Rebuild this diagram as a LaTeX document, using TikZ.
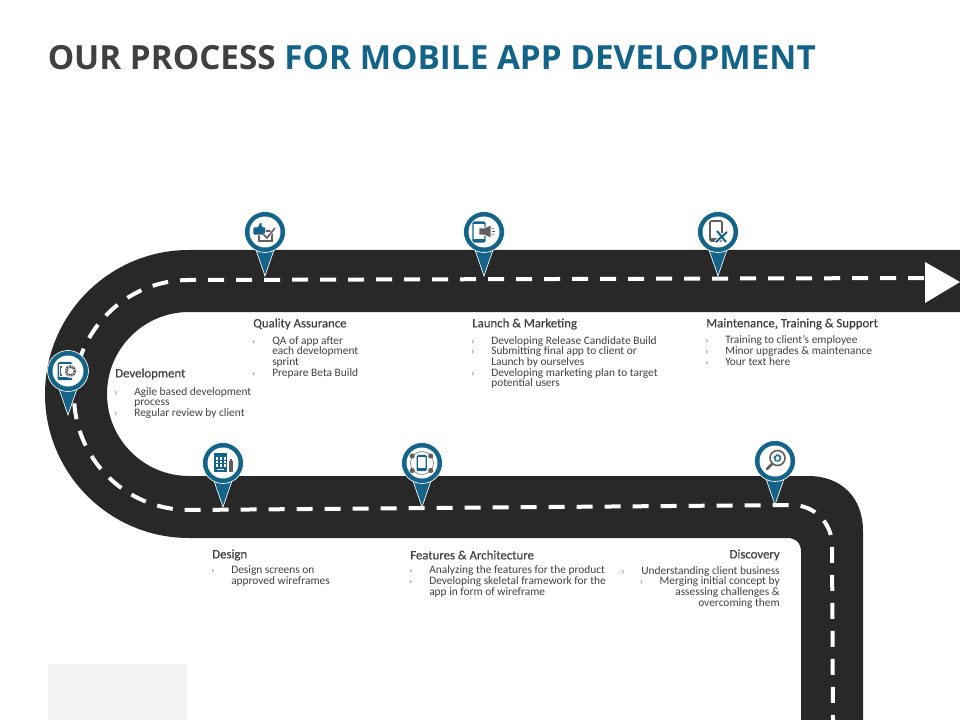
\documentclass[tikz,border=0pt]{standalone}
\usepackage{fontspec}
\setmainfont{Carlito}
\newfontfamily\titlefont{Open Sans}
\newfontfamily\headfont[FakeBold=0.4]{Carlito}
\definecolor{pinblue}{HTML}{146489}
\definecolor{roadgrey}{HTML}{282828}
\definecolor{textgrey}{HTML}{404040}
\definecolor{icongrey}{HTML}{5F5F5F}
\newcommand{\bmark}{\llap{\textcolor{icongrey}{\scriptsize ›}\hspace{12.5pt}}}
\tikzset{
   heading/.style={font=\headfont\fontsize{9.6}{10}\selectfont, text=textgrey, inner sep=0pt},
   listtext/.style={font=\fontsize{8.55}{8}\selectfont, text=textgrey, inner sep=0pt, align=left, anchor=north west},
   pinmark/.pic={
      \fill[pinblue, draw=white, line width=0.5pt] (-10,15) -- (0,44) -- (10,15) -- cycle;
      \fill[pinblue, draw=white, line width=0.5pt] (0,0) circle (20.5);
      \fill[white] (0,0) circle (15.5);
   },
   phone/.pic={
      \draw[pinblue, line width=1pt, rounded corners=1pt] (-6,-10) rectangle (6,10);
      \fill[pinblue] (-6,-10) rectangle (6,-8);
      \fill[pinblue] (-6,7) rectangle (6,10);
   }
}
\begin{document}
\begin{tikzpicture}[x=0.75pt, y=-0.75pt]
   \useasboundingbox (0,0) rectangle (960,720);
   \fill[white] (0,0) rectangle (960,720);

   \node (title) [anchor=west, inner sep=0pt, font=\titlefont\fontsize{24.95}{30}\selectfont\bfseries, text=textgrey] at (47.5,58)
      {OUR PROCESS \textcolor{pinblue}{FOR MOBILE APP DEVELOPMENT}};

   \fill[black!5] (48,664) rectangle (187,720);

   % road
   \fill[roadgrey] (960,250) -- (189,250) arc (270:90:144) -- (787,538)
      .. controls (796,538) and (801,543) .. (801,552) -- (801,720) -- (863,720) -- (863,531)
      .. controls (863,498) and (842,476) .. (808,476) -- (189,476) arc (90:270:82) -- (960,312) -- cycle;
   \draw[white, line width=3pt, dash pattern=on 12pt off 9pt] (924,278) -- (189,280) arc (270:90:115)
      -- (792,505) arc (270:360:40) -- (833,720);
   \fill[white] (925,262) -- (960,282) -- (925,303) -- cycle;

   % pins
   \pic at (265,232) {pinmark};
   \pic at (484,232) {pinmark};
   \pic at (718,232) {pinmark};
   \pic at (68,371) {pinmark};
   \pic at (223,463) {pinmark};
   \pic at (422,463) {pinmark};
   \pic at (775,461) {pinmark};

   % quality assurance icon
   \draw[icongrey, line width=1pt] (259,231) rectangle (272,241);
   \fill[pinblue, draw=white, line width=0.4pt, rounded corners=1pt] (253,227) -- (258,227) -- (260,222) -- (262,222) -- (262,227) -- (266,227) -- (265,235) -- (253,235) -- cycle;
   \draw[white, line width=2.2pt] (263,234) -- (267,238) -- (275,228);
   \draw[icongrey, line width=1.2pt] (263,234) -- (267,238) -- (275,228);

   % launch icon
   \pic at (479,232) {phone};
   \fill[icongrey, draw=white, line width=0.5pt] (479,228) -- (484,228) -- (491,225) -- (491,238) -- (484,235) -- (479,235) -- cycle;
   \draw[icongrey, line width=0.5pt] (492,229) -- (494,228) (492,231.5) -- (495,231.5) (492,234) -- (494,235);

   % maintenance icon
   \draw[icongrey, line width=1.2pt, rounded corners=1pt] (710,221) rectangle (722,241);
   \fill[icongrey] (710,238) rectangle (722,241);
   \draw[white, line width=3pt] (717,231) -- (726,242) (727,232) -- (716,242);
   \draw[pinblue, line width=1.5pt] (717,231) -- (726,242) (727,232) -- (716,242);

   % development icon
   \pic at (65,371) [yscale=0.85, xscale=1.1] {phone};
   \draw[icongrey, line width=0.8pt] (62,367) -- (60.5,367) -- (60.5,375) -- (62,375);
   \fill[white] (70.5,371) circle (7);
   \draw[icongrey, line width=2pt, dash pattern=on 1.2pt off 0.6pt] (70.5,371) circle (4.5);

   % design icon
   \fill[pinblue] (214,453) rectangle (227,472);
   \foreach \gx in {215.5,219.5,223.5}
      \foreach \gy in {457,460.5,464}
         \fill[white] (\gx,\gy) rectangle ++(2.8,2.6);
   \fill[white] (217,468.5) rectangle (224,470);
   \fill[icongrey] (228.5,461) rectangle (232.5,472);
   \fill[icongrey] (229.5,458.5) rectangle (231.5,461);

   % features icon
   \draw[icongrey, line width=0.4pt] (422,463) circle (11.5);
   \pic at (421.7,463) [scale=0.75] {phone};
   \foreach \ax/\ay in {-9.5/-7,9/-7,-9.5/7.5,9/7.5}
      \fill[icongrey] (421.7+\ax,463+\ay) circle (2.6);

   % discovery icon
   \draw[icongrey, line width=2pt, line cap=round] (772.5,463.5) -- (767,469);
   \draw[icongrey, line width=1.2pt] (777.5,458) circle (7.5);
   \draw[pinblue, line width=1.5pt, dash pattern=on 1pt off 0.5pt] (777.5,458) circle (3);

   % labels
   \node (devhead) [heading, anchor=west] at (115,374) {Development};
   \node (devlist) [listtext] at (134,387) {\bmark Agile based development\\process\\ \bmark Regular review by client};

   \node (qahead) [heading, anchor=west] at (253,324) {Quality Assurance};
   \node (qalist) [listtext] at (272,336) {\bmark QA of app after\\each development\\sprint\\ \bmark Prepare Beta Build};

   \node (launchhead) [heading, anchor=west] at (472,324) {Launch \& Marketing};
   \node (launchlist) [listtext] at (491,336) {\bmark Developing Release Candidate Build\\ \bmark Submitting final app to client or\\Launch by ourselves\\ \bmark Developing marketing plan to target\\potential users};

   \node (mainthead) [heading, anchor=west] at (706,324) {Maintenance, Training \& Support};
   \node (maintlist) [listtext] at (725,335.5) {\bmark Training to client's employee\\ \bmark Minor upgrades \& maintenance\\ \bmark Your text here};

   \node (designhead) [heading, anchor=west] at (212,555) {Design};
   \node (designlist) [listtext] at (231,565.5) {\bmark Design screens on\\approved wireframes};

   \node (feathead) [heading, anchor=west] at (410,555) {Features \& Architecture};
   \node (featlist) [listtext] at (429,565.5) {\bmark Analyzing the features for the product\\ \bmark Developing skeletal framework for the\\app in form of wireframe};

   \node (dischead) [heading, anchor=east] at (780,555) {Discovery};
   \node (disclist) [listtext, align=right, anchor=north east] at (780,566) {\bmark Understanding client business\\ \bmark Merging initial concept by\\assessing challenges \&\\overcoming them};
\end{tikzpicture}
\end{document}
